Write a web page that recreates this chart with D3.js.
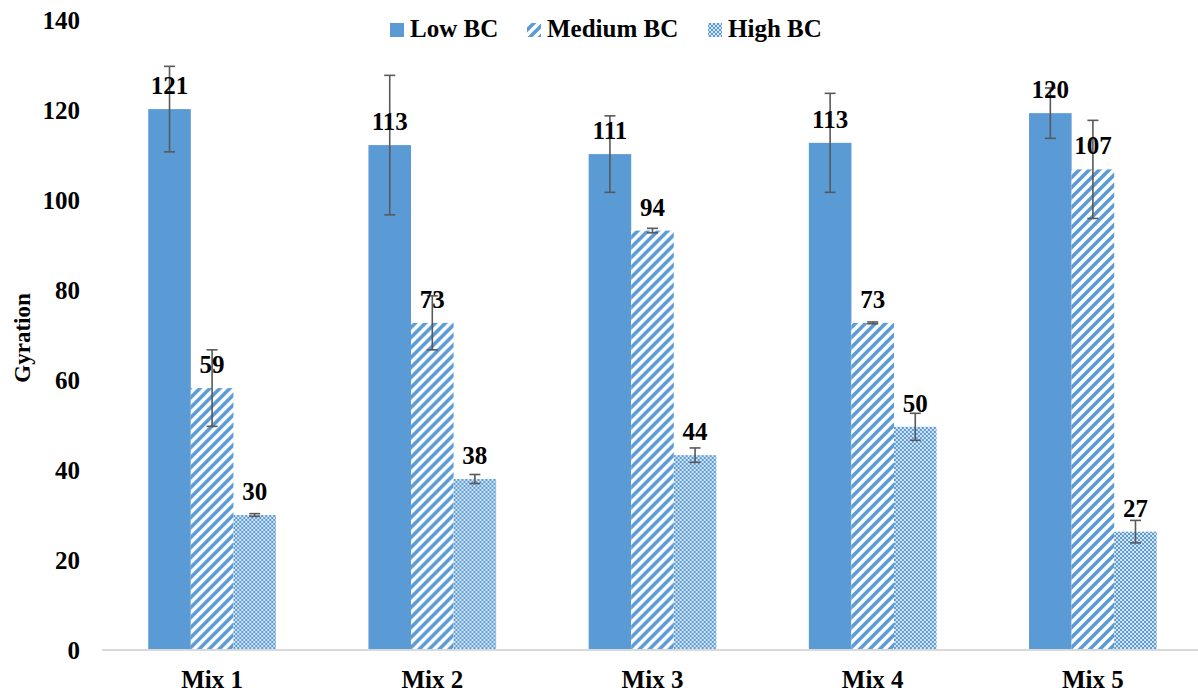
<!DOCTYPE html>
<html>
<head>
<meta charset="utf-8">
<script src="https://cdn.jsdelivr.net/npm/d3@7"></script>
<style>
  html, body { margin: 0; padding: 0; background: #fff; }
  svg { display: block; }
  text { font-family: "Liberation Serif", "Times New Roman", serif; font-weight: bold; fill: #000; }
</style>
</head>
<body>
<svg id="chart" width="1198" height="694"></svg>
<script>
const categories = ["Mix 1", "Mix 2", "Mix 3", "Mix 4", "Mix 5"];
const seriesNames = ["Low BC", "Medium BC", "High BC"];
const lowBC = [120.2, 112.2, 110.2, 112.7, 119.3];
const mediumBC = [58.2, 72.7, 93.2, 72.7, 106.8];
const highBC = [30.0, 38.0, 43.3, 49.6, 26.3];
const lowErr = [9.5, 15.5, 8.5, 11.0, 5.6];
const mediumErr = [8.5, 6.0, 0.5, 0.2, 10.9];
const highErr = [0.3, 1.0, 1.6, 3.0, 2.5];
const lowLabels = ["121", "113", "111", "113", "120"];
const mediumLabels = ["59", "73", "94", "73", "107"];
const highLabels = ["30", "38", "44", "50", "27"];
const yTicks = [0, 20, 40, 60, 80, 100, 120, 140];

const values = [lowBC, mediumBC, highBC];
const errors = [lowErr, mediumErr, highErr];
const labels = [lowLabels, mediumLabels, highLabels];

const svg = d3.select("#chart");
const blue = "#5b9bd5";
const FS = "25px";

// patterns
const defs = svg.append("defs");
const stripe = defs.append("pattern").attr("id", "pStripe")
  .attr("patternUnits", "userSpaceOnUse").attr("width", 10).attr("height", 10);
stripe.append("rect").attr("width", 10).attr("height", 10).attr("fill", "#fff");
stripe.append("path").attr("d", "M-2.5,2.5 l5,-5 M0,10 l10,-10 M7.5,12.5 l5,-5")
  .attr("stroke", blue).attr("stroke-width", 3.6);

const dots = defs.append("pattern").attr("id", "pDots")
  .attr("patternUnits", "userSpaceOnUse").attr("width", 4).attr("height", 4);
dots.append("rect").attr("width", 4).attr("height", 4).attr("fill", blue);
[[0,0],[4,0],[0,4],[4,4],[2,2]].forEach(([cx, cy]) => {
  dots.append("circle").attr("cx", cx).attr("cy", cy).attr("r", 1.0).attr("fill", "#fff");
});

const fills = [blue, "url(#pStripe)", "url(#pDots)"];

const y = d3.scaleLinear().domain([0, 140]).range([650, 20]);
const x0 = d3.scaleBand().domain(categories).range([102, 1203])
  .paddingInner(0.42).paddingOuter(0.21);
const x1 = d3.scaleBand().domain(seriesNames).range([0, x0.bandwidth()]);

// y axis (labels only)
const yAxis = d3.axisLeft(y).tickValues(yTicks).tickSize(0).tickPadding(0);
const gy = svg.append("g").attr("transform", "translate(80,0)").call(yAxis);
gy.select(".domain").remove();
gy.selectAll("text").style("font-size", FS).attr("text-anchor", "end").attr("dy", "0.34em")
  .style("font-family", '"Liberation Serif", "Times New Roman", serif').style("font-weight", "bold").attr("fill", "#000");

// bars
const groups = svg.append("g").selectAll("g").data(categories).join("g")
  .attr("transform", d => `translate(${x0(d)},0)`);

seriesNames.forEach((s, si) => {
  groups.append("rect")
    .attr("x", x1(s))
    .attr("width", x1.bandwidth())
    .attr("y", (d, i) => y(values[si][i]))
    .attr("height", (d, i) => y(0) - y(values[si][i]))
    .attr("fill", fills[si]);
});

// x axis line
svg.append("line").attr("x1", 102).attr("x2", 1198).attr("y1", y(0)).attr("y2", y(0))
  .attr("stroke", "#d9d9d9").attr("stroke-width", 2);

// error bars
seriesNames.forEach((s, si) => {
  const cx = x1(s) + x1.bandwidth() / 2;
  const eg = groups.append("g").attr("stroke", "#595959").attr("stroke-width", 1.6);
  eg.append("line").attr("x1", cx).attr("x2", cx)
    .attr("y1", (d, i) => y(values[si][i] + errors[si][i]))
    .attr("y2", (d, i) => y(values[si][i] - errors[si][i]));
  eg.append("line").attr("x1", cx - 5.5).attr("x2", cx + 5.5)
    .attr("y1", (d, i) => y(values[si][i] + errors[si][i]))
    .attr("y2", (d, i) => y(values[si][i] + errors[si][i]));
  eg.append("line").attr("x1", cx - 5.5).attr("x2", cx + 5.5)
    .attr("y1", (d, i) => y(values[si][i] - errors[si][i]))
    .attr("y2", (d, i) => y(values[si][i] - errors[si][i]));
});

// data labels
seriesNames.forEach((s, si) => {
  const cx = x1(s) + x1.bandwidth() / 2;
  groups.append("text").attr("x", cx)
    .attr("y", (d, i) => y(values[si][i]) - 15)
    .attr("text-anchor", "middle").style("font-size", FS)
    .text((d, i) => labels[si][i]);
});

// x labels
const xAxis = d3.axisBottom(x0).tickSize(0).tickPadding(0);
const gx = svg.append("g").attr("transform", "translate(0,688)").call(xAxis);
gx.select(".domain").remove();
gx.selectAll("text").attr("dy", 0).style("font-size", FS)
  .style("font-family", '"Liberation Serif", "Times New Roman", serif').style("font-weight", "bold").attr("fill", "#000");

// y title
svg.append("text").attr("transform", "translate(30,338) rotate(-90)")
  .attr("text-anchor", "middle").style("font-size", "23px").text("Gyration");

// legend
const legendX = [390, 527, 708];
const lg = svg.append("g").selectAll("g").data(seriesNames).join("g")
  .attr("transform", (d, i) => `translate(${legendX[i]},0)`);
lg.append("rect").attr("x", 0).attr("y", 23).attr("width", 14).attr("height", 14)
  .attr("fill", (d, i) => fills[i]);
lg.append("text").attr("x", 20).attr("y", 37).style("font-size", FS).text(d => d);
</script>
</body>
</html>
